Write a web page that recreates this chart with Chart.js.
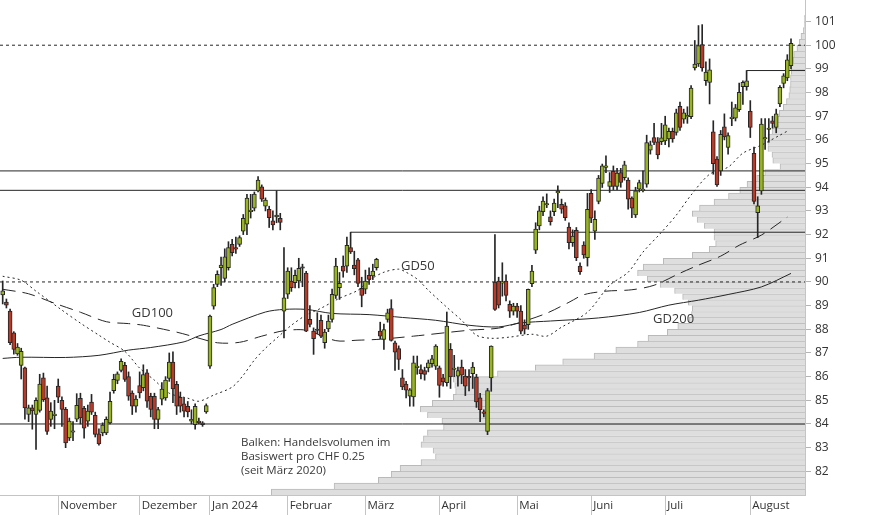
<!DOCTYPE html>
<html><head><meta charset="utf-8">
<script src="https://cdn.jsdelivr.net/npm/chart.js@4.4.1/dist/chart.umd.min.js"></script>
<style>html,body{margin:0;padding:0;background:#fff}#wrap{width:874px;height:515px}</style>
</head><body><div id="wrap"><canvas id="c" width="874" height="515"></canvas></div>
<script>
// ---------- data ----------
const dates = [
'2023-10-11','2023-10-12','2023-10-13','2023-10-16','2023-10-17','2023-10-18','2023-10-19','2023-10-20','2023-10-23','2023-10-24','2023-10-25','2023-10-26','2023-10-27','2023-10-30','2023-10-31',
'2023-11-01','2023-11-02','2023-11-03','2023-11-06','2023-11-07','2023-11-08','2023-11-09','2023-11-10','2023-11-13','2023-11-14','2023-11-15','2023-11-16','2023-11-17','2023-11-20','2023-11-21','2023-11-22','2023-11-23','2023-11-24','2023-11-27','2023-11-28','2023-11-29','2023-11-30',
'2023-12-01','2023-12-04','2023-12-05','2023-12-06','2023-12-07','2023-12-08','2023-12-11','2023-12-12','2023-12-13','2023-12-14','2023-12-15','2023-12-18','2023-12-19','2023-12-20','2023-12-21','2023-12-22','2023-12-27','2023-12-28','2023-12-29',
'2024-01-03','2024-01-04','2024-01-05','2024-01-08','2024-01-09','2024-01-10','2024-01-11','2024-01-12','2024-01-15','2024-01-16','2024-01-17','2024-01-18','2024-01-19','2024-01-22','2024-01-23','2024-01-24','2024-01-25','2024-01-26','2024-01-29','2024-01-30','2024-01-31',
'2024-02-01','2024-02-02','2024-02-05','2024-02-06','2024-02-07','2024-02-08','2024-02-09','2024-02-12','2024-02-13','2024-02-14','2024-02-15','2024-02-16','2024-02-19','2024-02-20','2024-02-21','2024-02-22','2024-02-23','2024-02-26','2024-02-27','2024-02-28','2024-02-29',
'2024-03-01','2024-03-04','2024-03-05','2024-03-06','2024-03-07','2024-03-08','2024-03-11','2024-03-12','2024-03-13','2024-03-14','2024-03-15','2024-03-18','2024-03-19','2024-03-20','2024-03-21','2024-03-22','2024-03-25','2024-03-26','2024-03-27','2024-03-28',
'2024-04-02','2024-04-03','2024-04-04','2024-04-05','2024-04-08','2024-04-09','2024-04-10','2024-04-11','2024-04-12','2024-04-15','2024-04-16','2024-04-17','2024-04-18','2024-04-19','2024-04-22','2024-04-23','2024-04-24','2024-04-25','2024-04-26','2024-04-29','2024-04-30',
'2024-05-02','2024-05-03','2024-05-06','2024-05-07','2024-05-08','2024-05-10','2024-05-13','2024-05-14','2024-05-15','2024-05-16','2024-05-17','2024-05-21','2024-05-22','2024-05-23','2024-05-24','2024-05-27','2024-05-28','2024-05-29','2024-05-30','2024-05-31',
'2024-06-03','2024-06-04','2024-06-05','2024-06-06','2024-06-07','2024-06-10','2024-06-11','2024-06-12','2024-06-13','2024-06-14','2024-06-17','2024-06-18','2024-06-19','2024-06-20','2024-06-21','2024-06-24','2024-06-25','2024-06-26','2024-06-27','2024-06-28',
'2024-07-01','2024-07-02','2024-07-03','2024-07-04','2024-07-05','2024-07-08','2024-07-09','2024-07-10','2024-07-11','2024-07-12','2024-07-15','2024-07-16','2024-07-17','2024-07-18','2024-07-19','2024-07-22','2024-07-23','2024-07-24','2024-07-25','2024-07-26','2024-07-29','2024-07-30','2024-07-31',
'2024-08-02','2024-08-05','2024-08-06','2024-08-07','2024-08-08','2024-08-09','2024-08-12','2024-08-13','2024-08-14','2024-08-15','2024-08-16','2024-08-19'
];
const open = [
89.45,89.15,88.77,87.85,86.96,86.47,86.37,84.4,84.68,84.4,
84.57,85.95,85.1,84.19,84.35,85.6,85.0,84.62,83.41,83.65,
84.2,85.08,84.66,84.12,84.92,84.37,83.58,83.62,83.62,84.04,
85.41,85.84,86.26,86.48,86.0,85.31,84.75,85.62,85.53,86.16,
85.17,85.17,84.19,85.05,85.1,85.92,86.61,85.67,85.13,84.85,
84.75,84.12,83.97,84.1,84.05,84.51,86.44,88.98,89.9,90.6,
90.15,90.6,91.59,91.45,91.59,92.15,92.44,92.97,93.12,93.85,
94.02,93.2,93.07,92.58,92.75,92.69,88.77,89.48,90.04,89.97,
90.04,90.62,90.37,88.42,87.92,88.0,88.38,87.43,88.02,88.42,
89.43,89.76,90.67,90.67,91.45,90.71,90.93,89.73,89.69,90.28,
90.25,90.6,87.92,87.57,88.42,88.88,87.43,87.19,85.95,85.69,
85.18,85.14,86.38,86.3,86.26,86.37,86.55,86.44,86.37,85.95,
85.74,87.15,86.3,86.02,86.4,86.02,86.0,86.12,85.98,85.1,
84.5,83.69,85.95,89.99,90.04,89.95,90.04,89.05,88.77,88.98,
88.77,88.18,88.2,89.93,91.34,92.37,92.97,93.25,92.75,92.97,
93.76,93.28,93.21,92.32,91.66,92.18,90.67,91.56,91.03,93.74,
92.15,93.4,94.16,94.84,94.03,94.67,94.03,94.62,94.41,94.3,
93.54,92.83,93.92,93.86,94.13,95.57,96.1,95.92,95.93,95.96,
96.04,96.36,96.32,97.42,96.88,96.97,96.98,99.04,99.21,100.03,
98.5,98.43,96.34,95.19,94.69,96.55,95.68,96.9,96.92,97.28,
98.25,98.25,97.21,95.43,92.93,93.85,96.04,96.44,96.81,96.53,
97.52,98.39,98.62,99.14];
const high = [
90.04,89.28,88.85,87.9,87.4,87.2,86.4,84.8,84.8,85.1,
86.1,86.15,85.6,84.9,85.0,85.9,85.15,84.7,84.25,84.1,
85.28,85.3,84.75,84.8,85.25,84.5,83.8,84.05,84.3,85.35,
86.1,86.2,86.75,86.6,86.2,85.4,85.2,86.2,86.5,86.3,
85.3,85.3,84.7,85.75,86.0,87.0,87.05,85.8,85.35,85.1,
84.95,84.6,84.85,84.25,84.1,84.85,88.6,89.9,90.47,91.05,
91.4,91.7,91.8,91.9,91.95,92.85,93.7,93.7,93.8,94.45,
94.1,93.55,93.2,93.0,93.85,92.9,91.45,90.6,90.6,90.5,
91.0,90.75,90.45,89.0,88.06,88.7,88.6,88.0,88.6,89.7,
91.0,90.4,91.1,91.9,92.1,91.3,91.0,90.2,90.5,90.6,
90.75,91.0,88.3,88.22,88.85,89.25,87.5,87.3,86.3,85.8,
85.5,86.87,86.87,86.5,86.4,86.7,86.9,87.35,86.45,86.1,
88.73,87.4,86.9,86.4,86.7,86.3,86.3,86.6,86.1,85.3,
84.6,85.5,87.3,92.0,90.2,90.81,90.3,89.2,89.1,89.1,
89.0,88.4,89.7,90.7,92.5,93.2,93.6,93.72,93.0,93.5,
94.06,93.5,93.35,92.5,92.2,92.3,90.81,91.7,93.74,93.9,
93.0,94.5,94.98,95.33,94.62,94.9,94.8,94.8,95.1,94.4,
93.6,94.0,94.3,94.69,96.2,95.95,96.7,96.1,96.7,97.0,
96.5,96.5,97.3,97.6,97.3,97.4,98.3,100.2,100.83,100.87,
99.3,99.42,96.81,95.3,96.4,97.1,96.3,97.6,97.5,98.4,
98.5,98.93,97.66,95.7,93.6,96.9,96.9,96.9,97.0,97.3,
98.3,98.8,99.6,100.27];
const low = [
89.07,88.9,87.35,86.95,86.9,85.9,84.2,84.1,83.78,82.93,
84.5,84.95,83.56,83.9,83.8,84.9,83.9,83.0,83.3,83.3,
84.1,84.0,83.4,83.9,84.4,83.45,83.1,83.5,83.55,84.0,
85.3,85.7,86.2,85.8,85.0,84.4,84.5,85.1,85.4,84.7,
84.3,83.8,83.8,84.8,85.0,85.8,84.9,84.4,84.5,84.3,
84.3,84.0,83.78,84.0,83.9,84.45,86.35,88.85,89.8,89.85,
90.0,90.5,91.1,91.2,91.5,92.0,92.0,92.7,93.0,93.8,
93.4,93.0,92.3,92.2,92.5,92.2,87.64,89.3,89.6,89.75,
89.75,89.8,87.9,88.1,86.94,87.8,87.65,87.2,87.9,88.3,
89.3,89.26,90.2,90.4,91.2,90.3,89.8,88.95,89.5,89.9,
90.1,90.5,87.6,87.15,88.3,87.5,86.26,86.3,85.45,85.1,
84.75,84.75,86.1,85.9,85.85,86.2,86.4,86.3,85.13,85.6,
85.6,85.5,86.0,85.6,85.7,85.2,85.4,85.5,84.7,84.1,
84.3,83.55,85.38,88.8,88.9,89.4,89.2,88.5,88.6,88.5,
87.8,87.8,88.0,89.8,91.2,92.2,92.8,93.14,92.4,92.8,
93.14,92.9,92.6,91.4,91.5,90.9,90.32,91.0,90.67,92.5,
91.8,93.3,93.99,94.62,93.78,93.9,93.9,94.0,94.3,93.07,
92.72,92.72,93.8,93.8,94.0,95.4,95.8,95.2,95.8,95.8,
95.7,95.9,96.2,96.4,96.7,96.7,96.9,98.95,99.1,98.9,
98.3,97.52,94.55,94.03,94.5,96.0,95.4,96.6,96.8,97.2,
97.5,98.1,96.1,93.3,91.87,93.7,95.6,95.9,96.5,96.3,
97.4,98.2,98.5,99.0];
const close = [
89.62,89.02,87.43,87.15,87.25,87.07,84.68,84.68,84.55,85.0,
85.69,85.03,83.69,84.54,84.4,85.13,84.62,83.2,84.12,83.7,
84.79,84.26,83.82,84.54,84.5,83.56,83.16,83.95,84.2,84.96,
85.89,86.12,86.65,85.88,85.17,84.75,85.05,85.31,86.09,84.96,
84.61,84.19,84.61,85.47,85.85,86.61,85.48,84.75,84.75,84.54,
84.51,84.2,84.75,84.06,83.97,84.78,88.56,89.76,90.32,90.71,
91.06,91.45,91.24,91.38,91.87,92.69,93.54,93.03,93.71,94.3,
93.5,93.46,92.72,92.41,92.82,92.51,89.33,90.46,89.76,90.28,
90.58,90.58,87.92,88.21,87.6,87.95,87.71,87.88,88.35,89.48,
90.67,89.94,90.46,91.55,91.27,90.56,89.94,89.43,90.04,90.11,
90.46,90.96,87.71,87.99,88.7,87.53,87.03,86.73,85.57,85.43,
85.44,86.58,86.42,86.12,86.09,86.58,86.75,87.29,85.63,85.78,
88.14,85.99,86.36,86.26,86.06,85.6,85.95,86.4,84.93,84.6,
84.45,85.41,87.29,88.84,89.02,90.0,89.43,88.77,88.98,88.77,
87.92,88.0,89.69,90.46,92.23,93.0,93.42,93.3,92.55,93.33,
93.8,93.07,92.72,91.66,91.94,91.03,90.43,91.14,93.07,92.69,
92.65,94.39,94.91,94.88,94.24,94.03,94.6,94.2,94.95,93.5,
93.12,93.85,94.2,93.9,95.89,95.79,95.89,95.37,96.09,96.64,
96.36,96.04,97.14,96.53,97.14,97.01,98.19,99.2,99.98,99.04,
98.86,98.96,95.0,94.1,96.24,96.13,96.18,96.94,97.35,98.01,
98.43,98.5,96.53,93.4,93.21,96.67,96.1,96.48,96.7,97.1,
98.22,98.71,99.38,100.08];

// moving averages read at sample days (trading-day index into dates)
const gd50Idx = [0,5,9,16,21,26,29,33,37,41,45,50,53,57,62,65,68,71,74,78,82,86,91,96,99,103,107,109,112,115,120,124,128,132,137,143,147,151,158,164,169,173,178,182,186,191,196,200,205,210,212];
const gd50Val = [90.24,90.07,89.61,88.81,88.26,87.75,87.45,87.07,86.36,85.85,85.3,85.09,84.96,85.22,85.56,86.06,86.7,87.2,87.62,88.17,88.6,88.89,89.31,89.65,90.07,90.41,90.54,90.41,90.12,89.65,88.93,88.38,87.75,87.62,87.67,87.79,87.71,88.09,88.72,89.86,90.41,91.26,92.1,92.82,93.67,94.55,94.85,95.44,95.78,96.2,96.37];
const gd100Idx = [0,7,14,21,28,34,38,47,52,58,64,70,76,82,90,96,102,111,126,134,140,147,153,157,163,170,176,183,188,194,199,205,212];
const gd100Val = [89.69,89.5,89.1,88.72,88.32,88.24,88.17,87.88,87.67,87.43,87.45,87.71,87.94,87.96,87.52,87.54,87.58,87.71,87.96,88.05,88.3,88.68,89.14,89.46,89.61,89.67,89.86,90.37,90.71,91.09,91.55,91.98,92.74];
const gd200Idx = [0,5,17,26,34,40,49,53,59,62,71,76,82,89,99,108,117,126,134,140,148,161,172,180,188,196,205,213];
const gd200Val = [86.77,86.82,86.81,86.9,87.12,87.23,87.47,87.72,87.99,88.21,88.73,88.84,88.84,88.67,88.62,88.5,88.38,88.17,88.1,88.27,88.35,88.48,88.71,89.02,89.23,89.47,89.79,90.36];

// volume profile: bin lower bound (CHF 0.25 bins) and traded volume (relative units)
const volBin = [81,81.25,81.5,81.75,82,82.25,82.5,82.75,83,83.25,83.5,83.75,84,84.25,84.5,84.75,85,85.25,85.5,85.75,
86,86.25,86.5,86.75,87,87.25,87.5,87.75,88,88.25,88.5,88.75,89,89.25,89.5,89.75,90,90.25,90.5,90.75,
91,91.25,91.5,91.75,92,92.25,92.5,92.75,93,93.25,93.5,93.75,94,94.25,94.5,94.75,95,95.25,95.5,95.75,
96,96.25,96.5,96.75,97,97.25,97.5,97.75,98,98.25,98.5,98.75,99,99.25,99.5,99.75,100,100.25,100.5,100.75,101];
const volAmount = [663,585,530,514,503,477,459,462,477,474,469,449,451,469,478,463,437,434,435,437,
382,335,301,262,235,208,195,171,158,144,141,140,145,152,162,180,196,208,201,176,
140,119,111,113,113,125,134,140,131,113,95,81,72,60,50,31,40,41,46,46,
46,41,39,35,32,27,23,20,19,18,18,17,17,15,14,10,7,5,2,1,1];

// horizontal levels
const fullLevels = [100, 94.69, 93.87, 90, 84];
const fullLevelDashed = [true, false, false, true, false];
const partLevelFrom = ['2024-02-26', '2024-07-31'];
const partLevelVal = [92.1, 98.93];

// axis labels
const monthTickDates = ['2023-11-01','2023-12-01','2024-01-03','2024-02-01','2024-03-01','2024-04-02','2024-05-02','2024-06-03','2024-07-01','2024-08-02'];
const monthLabels = ['November','Dezember','Jan 2024','Februar','März','April','Mai','Juni','Juli','August'];
const yTickValues = [82,83,84,85,86,87,88,89,90,91,92,93,94,95,96,97,98,99,100,101];

// text notes (anchored on trading-day index / price)
const noteText = ['GD100', 'GD50', 'GD200', 'Balken: Handelsvolumen im\nBasiswert pro CHF 0.25\n(seit März 2020)'];
const noteIdx = [34.9, 107.6, 175.7, 64.4];
const noteVal = [88.68, 90.67, 88.43, 83.19];
const noteSize = [13, 13, 13, 11.5];

// ---------- chart ----------
const X_MIN = -0.73, X_MAX = 216.78, Y_MIN = 81, Y_MAX = 101.91, PLOT_H = 495, BIN = 0.25;
const UP = '#98b51f', DOWN = '#b93a27', INK = '#262626';
Chart.defaults.font.family = "'Open Sans', sans-serif";

const idx = dates.map((d, i) => i);
const bodies = idx.map(i => ({x: i, y: [open[i], close[i]]}));
const wicks = idx.map(i => ({x: i, y: [low[i], high[i]]}));
const bodyColors = idx.map(i => close[i] >= open[i] ? UP : DOWN);

const maSet = (ix, vals, dash) => ({
  type: 'line', data: ix.map((d, k) => ({x: d, y: vals[k]})), borderColor: INK, borderWidth: 1,
  borderDash: dash, pointRadius: 0, tension: 0.3, order: 2, xAxisID: 'x', yAxisID: 'y'
});
const levelSets = fullLevels.map((v, k) => ({
  type: 'line', data: [{x: X_MIN, y: v}, {x: X_MAX, y: v}], borderColor: INK, borderWidth: 1,
  borderDash: fullLevelDashed[k] ? [3, 3] : [], pointRadius: 0, order: 3, xAxisID: 'x', yAxisID: 'y'
})).concat(partLevelVal.map((v, k) => ({
  type: 'line', data: [{x: dates.indexOf(partLevelFrom[k]), y: v}, {x: X_MAX, y: v}], borderColor: INK, borderWidth: 1,
  pointRadius: 0, order: 3, xAxisID: 'x', yAxisID: 'y'
})));

const monthIdx = monthTickDates.map(d => dates.indexOf(d));

const notes = {
  id: 'notes',
  afterDatasetsDraw(chart) {
    const {ctx, scales: {x, y}} = chart;
    ctx.save();
    ctx.fillStyle = '#383838';
    ctx.textBaseline = 'middle';
    ctx.textAlign = 'left';
    noteText.forEach((t, k) => {
      ctx.font = noteSize[k] + "px 'Open Sans'";
      t.split('\n').forEach((line, j) => {
        ctx.fillText(line, x.getPixelForValue(noteIdx[k]), y.getPixelForValue(noteVal[k]) + j * 14);
      });
    });
    ctx.restore();
  }
};
const zeroPad = s => { s.paddingLeft = 0; s.paddingRight = 0; s.paddingTop = 0; s.paddingBottom = 0; };

new Chart(document.getElementById('c'), {
  data: {
    datasets: [
      {type: 'bar', data: bodies, backgroundColor: bodyColors, borderColor: INK, borderWidth: 1, borderSkipped: false,
       barThickness: 4, grouped: false, minBarLength: 1.5, order: 0, xAxisID: 'x', yAxisID: 'y'},
      {type: 'bar', data: wicks, backgroundColor: INK, barThickness: 1, grouped: false, order: 1, xAxisID: 'x', yAxisID: 'y'},
      maSet(gd50Idx, gd50Val, [2, 3]),
      maSet(gd100Idx, gd100Val, [13, 7]),
      maSet(gd200Idx, gd200Val, []),
      ...levelSets,
      {type: 'bar', indexAxis: 'y', data: volBin.map((b, k) => ({y: b + BIN / 2, x: volAmount[k]})),
       backgroundColor: '#dedede', borderColor: '#b9b9b9', borderWidth: {top: 1, left: 1, bottom: 0, right: 0},
       barThickness: BIN * PLOT_H / (Y_MAX - Y_MIN), grouped: false, order: 4, xAxisID: 'xv', yAxisID: 'y'}
    ]
  },
  options: {
    responsive: false, animation: false, devicePixelRatio: 1,
    layout: {padding: 0, autoPadding: false},
    plugins: {legend: {display: false}, tooltip: {enabled: false}},
    scales: {
      x: {
        type: 'linear', position: 'bottom', min: X_MIN, max: X_MAX, offset: false,
        afterBuildTicks: s => { s.ticks = monthIdx.map(v => ({value: v})); },
        afterFit: s => { s.height = 20; zeroPad(s); },
        grid: {drawOnChartArea: false, tickLength: 20, color: '#c4c4c4', offset: false},
        border: {color: '#c4c4c4'},
        ticks: {callback: (v, i) => monthLabels[i], align: 'start', padding: -16, labelOffset: 2,
                autoSkip: false, maxRotation: 0, color: '#333', font: {size: 11.5}}
      },
      y: {
        type: 'linear', position: 'right', min: Y_MIN, max: Y_MAX, offset: false,
        afterBuildTicks: s => { s.ticks = yTickValues.map(v => ({value: v})); },
        afterFit: s => { s.width = 69; zeroPad(s); },
        grid: {drawOnChartArea: false, tickLength: 6, color: '#b4b4b4', offset: false},
        border: {color: '#c4c4c4'},
        ticks: {padding: 4, color: '#333', font: {size: 12}}
      },
      xv: {type: 'linear', display: false, min: 0, max: 1000, reverse: true, offset: false,
           grid: {offset: false}, afterFit: zeroPad}
    }
  },
  plugins: [notes]
});
</script>
</body></html>
